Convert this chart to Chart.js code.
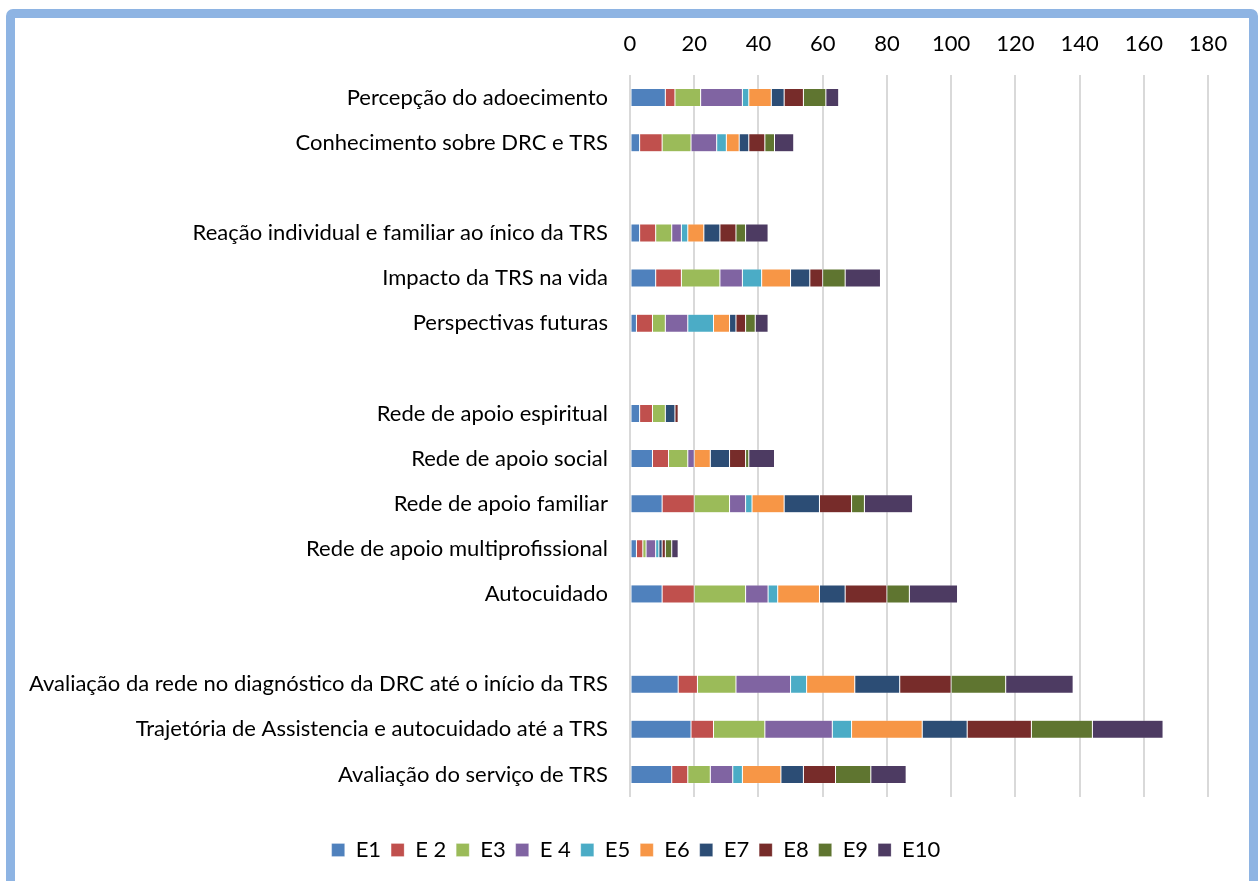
<!DOCTYPE html>
<html>
<head>
<meta charset="utf-8">
<script src="https://cdn.jsdelivr.net/npm/chart.js@4.4.1/dist/chart.umd.min.js"></script>
<style>
  html, body { margin: 0; padding: 0; background: #ffffff; overflow: hidden; }
  #frame {
    position: absolute; left: 6px; top: 9px; width: 1234px; height: 900px;
    border: 9px solid #8EB4E3; border-radius: 7px; box-sizing: content-box;
  }
  #wrap { position: absolute; left: 0; top: 0; width: 1258px; height: 881px; }
</style>
</head>
<body>
<div id="frame"></div>
<div id="wrap"><canvas id="c" width="1258" height="881"></canvas></div>
<script>
// Category rows (empty strings are spacer rows between the groups)
const categories = [
  'Percepção do adoecimento',
  'Conhecimento sobre DRC e TRS',
  '',
  'Reação individual e familiar ao ínico da TRS',
  'Impacto da TRS na vida',
  'Perspectivas futuras',
  '',
  'Rede de apoio espiritual',
  'Rede de apoio social',
  'Rede de apoio familiar',
  'Rede de apoio multiprofissional',
  'Autocuidado',
  '',
  'Avaliação da rede no diagnóstico da DRC até o início da TRS',
  'Trajetória de Assistencia e autocuidado até a TRS',
  'Avaliação do serviço de TRS'
];

const seriesNames = ['E1', 'E 2', 'E3', 'E 4', 'E5', 'E6', 'E7', 'E8', 'E9', 'E10'];

// Counts per interview, one array per series, in category order
const E1  = [11, 3, null, 3,  8, 2, null, 3,  7, 10, 2, 10, null, 15, 19, 13];
const E2  = [ 3, 7, null, 5,  8, 5, null, 4,  5, 10, 2, 10, null,  6,  7,  5];
const E3  = [ 8, 9, null, 5, 12, 4, null, 4,  6, 11, 1, 16, null, 12, 16,  7];
const E4  = [13, 8, null, 3,  7, 7, null, 0,  2,  5, 3,  7, null, 17, 21,  7];
const E5  = [ 2, 3, null, 2,  6, 8, null, 0,  0,  2, 1,  3, null,  5,  6,  3];
const E6  = [ 7, 4, null, 5,  9, 5, null, 0,  5, 10, 0, 13, null, 15, 22, 12];
const E7  = [ 4, 3, null, 5,  6, 2, null, 3,  6, 11, 1,  8, null, 14, 14,  7];
const E8  = [ 6, 5, null, 5,  4, 3, null, 1,  5, 10, 1, 13, null, 16, 20, 10];
const E9  = [ 7, 3, null, 3,  7, 3, null, 0,  1,  4, 2,  7, null, 17, 19, 11];
const E10 = [ 4, 6, null, 7, 11, 4, null, 0,  8, 15, 2, 15, null, 21, 22, 11];

const xTicks = [0, 20, 40, 60, 80, 100, 120, 140, 160, 180];

const seriesData = [E1, E2, E3, E4, E5, E6, E7, E8, E9, E10];
const colors = ['#4F81BD', '#C0504D', '#9BBB59', '#8064A2', '#4BACC6',
                '#F79646', '#2C4D75', '#772C2A', '#5F7530', '#4D3B62'];

const FONT = 'Lato, "Open Sans", sans-serif';

// Nudge the legend so it sits centred under the whole frame, not just the plot
const legendShift = {
  id: 'legendShift',
  afterLayout(chart) {
    const l = chart.legend;
    if (l) { l.left += 32; l.right += 32; }
  }
};

new Chart(document.getElementById('c'), {
  type: 'bar',
  data: {
    labels: categories,
    datasets: seriesData.map((d, i) => ({
      label: seriesNames[i],
      data: d,
      backgroundColor: colors[i],
      borderColor: 'rgba(255,255,255,0.45)',
      borderWidth: 0.5,
      borderSkipped: false,
      barPercentage: 0.8,
      categoryPercentage: 0.5,
      xAxisID: 'x'
    }))
  },
  options: {
    indexAxis: 'y',
    responsive: false,
    animation: false,
    layout: { padding: { left: 0, right: 50, top: 31, bottom: 10 } },
    scales: {
      x: {
        position: 'top',
        stacked: true,
        min: 0,
        max: 180,
        afterBuildTicks: (scale) => { scale.ticks = xTicks.map(v => ({ value: v })); },
        afterFit: (scale) => { scale.height = 44; },
        ticks: { color: '#000', font: { family: FONT, size: 22 }, padding: 18 },
        grid: { color: '#D9D9D9', lineWidth: 2, drawTicks: false },
        border: { display: false }
      },
      // empty spacer axis between the plot and the legend
      gap: {
        type: 'linear',
        axis: 'x',
        position: 'bottom',
        display: true,
        afterFit: (scale) => { scale.height = 32; },
        ticks: { display: false },
        grid: { display: false, drawTicks: false },
        border: { display: false }
      },
      y: {
        stacked: true,
        afterFit: (scale) => { scale.width = 630; },
        ticks: { color: '#000', font: { family: FONT, size: 22 }, autoSkip: false, padding: 22 },
        grid: { display: false, drawTicks: false },
        border: { display: false }
      }
    },
    plugins: {
      legend: {
        position: 'bottom',
        labels: {
          color: '#000',
          font: { family: FONT, size: 22 },
          boxWidth: 13,
          boxHeight: 13,
          padding: 10
        }
      },
      tooltip: { enabled: false }
    }
  },
  plugins: [legendShift]
});
</script>
</body>
</html>
